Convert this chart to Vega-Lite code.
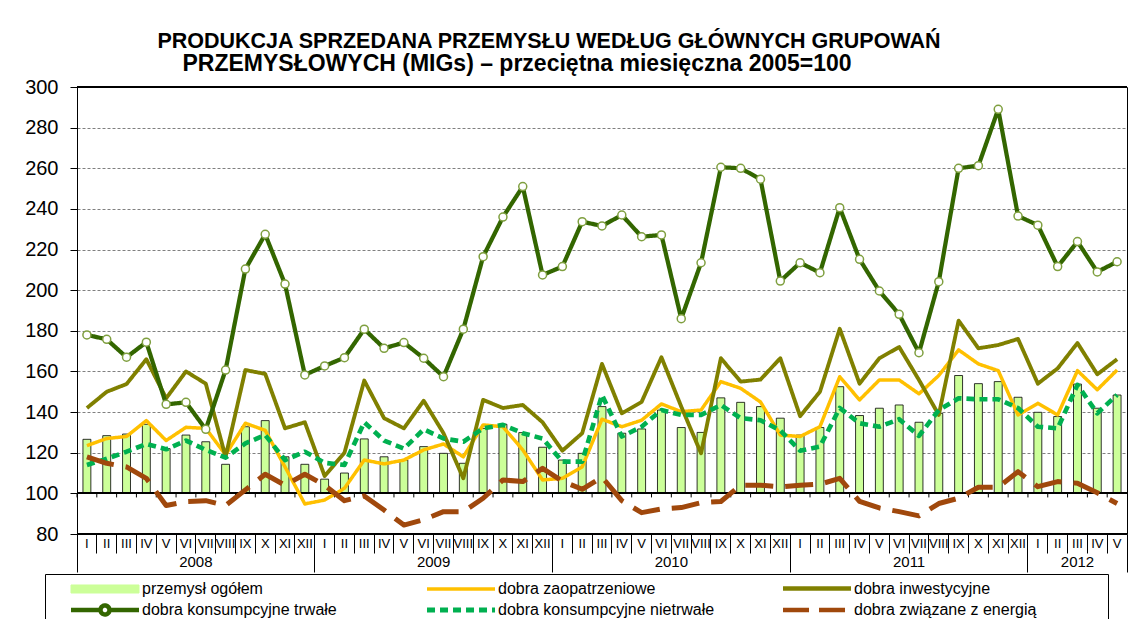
{
  "$schema": "https://vega.github.io/schema/vega-lite/v6.json",
  "width": 1050,
  "height": 447,
  "autosize": {"type": "none"},
  "padding": {"left": 77, "top": 87, "right": 4, "bottom": 85},
  "background": "white",
  "config": {"font": "Liberation Sans", "view": {"stroke": "black", "strokeWidth": 1}},
  "title": {
    "text": "PRODUKCJA SPRZEDANA PRZEMYSŁU WEDŁUG GŁÓWNYCH GRUPOWAŃ",
    "subtitle": "PRZEMYSŁOWYCH (MIGs) – przeciętna miesięczna 2005=100\u00a0\u00a0\u00a0\u00a0\u00a0\u00a0\u00a0\u00a0\u00a0\u00a0\u200b",
    "fontSize": 21.5,
    "font": "Liberation Sans",
    "fontWeight": "bold",
    "color": "black",
    "subtitleFont": "Liberation Sans",
    "subtitleFontSize": 23,
    "subtitleFontWeight": "bold",
    "subtitleColor": "black",
    "subtitlePadding": 1,
    "anchor": "middle",
    "dx": -53,
    "offset": 1
  },
  "data": {"values": [
    {"m": "2008-01", "ogolem": 126.6, "zaop": 123.5, "inwest": 142, "trwale": 178, "nietrwale": 114, "energia": 118},
    {"m": "2008-02", "ogolem": 128.4, "zaop": 127, "inwest": 150, "trwale": 175.8, "nietrwale": 117, "energia": 114.8},
    {"m": "2008-03", "ogolem": 129.2, "zaop": 128, "inwest": 153.8, "trwale": 167, "nietrwale": 120.5, "energia": 113},
    {"m": "2008-04", "ogolem": 134, "zaop": 135.8, "inwest": 166, "trwale": 174.4, "nietrwale": 124.3, "energia": 107.4},
    {"m": "2008-05", "ogolem": 122, "zaop": 126, "inwest": 146.8, "trwale": 143.8, "nietrwale": 121.7, "energia": 94},
    {"m": "2008-06", "ogolem": 128.7, "zaop": 132.5, "inwest": 160, "trwale": 144.8, "nietrwale": 126, "energia": 96},
    {"m": "2008-07", "ogolem": 125.4, "zaop": 132, "inwest": 154, "trwale": 131.5, "nietrwale": 121.4, "energia": 96.4},
    {"m": "2008-08", "ogolem": 114.3, "zaop": 119, "inwest": 118, "trwale": 160.7, "nietrwale": 117.6, "energia": 94},
    {"m": "2008-09", "ogolem": 132.8, "zaop": 134.5, "inwest": 160.7, "trwale": 210.4, "nietrwale": 124.6, "energia": 101.7},
    {"m": "2008-10", "ogolem": 135.8, "zaop": 131, "inwest": 158.8, "trwale": 227.5, "nietrwale": 128.7, "energia": 109.4},
    {"m": "2008-11", "ogolem": 118, "zaop": 113, "inwest": 132, "trwale": 203, "nietrwale": 116.4, "energia": 104},
    {"m": "2008-12", "ogolem": 114.3, "zaop": 94.8, "inwest": 135, "trwale": 158.3, "nietrwale": 120.5, "energia": 109.4},
    {"m": "2009-01", "ogolem": 107, "zaop": 96.7, "inwest": 108.5, "trwale": 162.7, "nietrwale": 115, "energia": 104},
    {"m": "2009-02", "ogolem": 110, "zaop": 102.5, "inwest": 120, "trwale": 166.8, "nietrwale": 114, "energia": 96.4},
    {"m": "2009-03", "ogolem": 126.8, "zaop": 116.4, "inwest": 155.5, "trwale": 180.8, "nietrwale": 135, "energia": 98.7},
    {"m": "2009-04", "ogolem": 118, "zaop": 114.5, "inwest": 137, "trwale": 171.4, "nietrwale": 126, "energia": 91.8},
    {"m": "2009-05", "ogolem": 116.4, "zaop": 116.4, "inwest": 132, "trwale": 174.2, "nietrwale": 122, "energia": 84.4},
    {"m": "2009-06", "ogolem": 123, "zaop": 121.4, "inwest": 145.6, "trwale": 166.5, "nietrwale": 131.5, "energia": 87},
    {"m": "2009-07", "ogolem": 119.7, "zaop": 124.3, "inwest": 129.6, "trwale": 157.4, "nietrwale": 127, "energia": 91},
    {"m": "2009-08", "ogolem": 114.8, "zaop": 118, "inwest": 107.4, "trwale": 180.8, "nietrwale": 125.4, "energia": 91},
    {"m": "2009-09", "ogolem": 132, "zaop": 133.7, "inwest": 146, "trwale": 216.5, "nietrwale": 132, "energia": 97.6},
    {"m": "2009-10", "ogolem": 134, "zaop": 132.8, "inwest": 142, "trwale": 236, "nietrwale": 133.7, "energia": 106.6},
    {"m": "2009-11", "ogolem": 129.9, "zaop": 121.4, "inwest": 143.5, "trwale": 251, "nietrwale": 129.6, "energia": 105.8},
    {"m": "2009-12", "ogolem": 122.7, "zaop": 106.6, "inwest": 135, "trwale": 207.5, "nietrwale": 127, "energia": 112.3},
    {"m": "2010-01", "ogolem": 116.4, "zaop": 107.4, "inwest": 121, "trwale": 211.6, "nietrwale": 115.6, "energia": 106},
    {"m": "2010-02", "ogolem": 119.7, "zaop": 113, "inwest": 129.6, "trwale": 233.7, "nietrwale": 115.6, "energia": 102},
    {"m": "2010-03", "ogolem": 142.7, "zaop": 136.5, "inwest": 163.7, "trwale": 231.6, "nietrwale": 148.4, "energia": 108},
    {"m": "2010-04", "ogolem": 129.6, "zaop": 132.8, "inwest": 139.4, "trwale": 237, "nietrwale": 128, "energia": 96.4},
    {"m": "2010-05", "ogolem": 131.7, "zaop": 136, "inwest": 145, "trwale": 226.3, "nietrwale": 132.8, "energia": 90.5},
    {"m": "2010-06", "ogolem": 141, "zaop": 144, "inwest": 167, "trwale": 227.2, "nietrwale": 141, "energia": 92.3},
    {"m": "2010-07", "ogolem": 132.4, "zaop": 140.2, "inwest": 142.7, "trwale": 186, "nietrwale": 138.6, "energia": 93},
    {"m": "2010-08", "ogolem": 130, "zaop": 141, "inwest": 119.7, "trwale": 213.5, "nietrwale": 138.6, "energia": 95.4},
    {"m": "2010-09", "ogolem": 147, "zaop": 155, "inwest": 166.5, "trwale": 260.5, "nietrwale": 143.5, "energia": 96},
    {"m": "2010-10", "ogolem": 144.8, "zaop": 151.7, "inwest": 155, "trwale": 260, "nietrwale": 137, "energia": 104},
    {"m": "2010-11", "ogolem": 142.7, "zaop": 145, "inwest": 156, "trwale": 254.6, "nietrwale": 136, "energia": 104},
    {"m": "2010-12", "ogolem": 137, "zaop": 128.7, "inwest": 166.5, "trwale": 204.5, "nietrwale": 131, "energia": 103.2},
    {"m": "2011-01", "ogolem": 128.7, "zaop": 128, "inwest": 138, "trwale": 213.5, "nietrwale": 121, "energia": 104},
    {"m": "2011-02", "ogolem": 132.4, "zaop": 132.8, "inwest": 150, "trwale": 208.6, "nietrwale": 123, "energia": 104.5},
    {"m": "2011-03", "ogolem": 152.5, "zaop": 157.4, "inwest": 181, "trwale": 240.6, "nietrwale": 142, "energia": 107.4},
    {"m": "2011-04", "ogolem": 138.3, "zaop": 146, "inwest": 154, "trwale": 215.2, "nietrwale": 134.5, "energia": 96},
    {"m": "2011-05", "ogolem": 141.9, "zaop": 155.8, "inwest": 166.5, "trwale": 199.6, "nietrwale": 132.8, "energia": 92.8},
    {"m": "2011-06", "ogolem": 143.5, "zaop": 155.8, "inwest": 172, "trwale": 188.1, "nietrwale": 136.5, "energia": 91},
    {"m": "2011-07", "ogolem": 135, "zaop": 149, "inwest": 155.8, "trwale": 169.2, "nietrwale": 128.3, "energia": 88.9},
    {"m": "2011-08", "ogolem": 139.4, "zaop": 158, "inwest": 138.6, "trwale": 204.2, "nietrwale": 141, "energia": 95},
    {"m": "2011-09", "ogolem": 158, "zaop": 170.6, "inwest": 185, "trwale": 260, "nietrwale": 146.8, "energia": 97.6},
    {"m": "2011-10", "ogolem": 154, "zaop": 163.7, "inwest": 171.4, "trwale": 261.3, "nietrwale": 146.3, "energia": 103},
    {"m": "2011-11", "ogolem": 155, "zaop": 160.4, "inwest": 173, "trwale": 289, "nietrwale": 146.3, "energia": 103},
    {"m": "2011-12", "ogolem": 147.3, "zaop": 138.6, "inwest": 176, "trwale": 236.5, "nietrwale": 142, "energia": 110.7},
    {"m": "2012-01", "ogolem": 139.9, "zaop": 144.3, "inwest": 154, "trwale": 232, "nietrwale": 132.8, "energia": 103.3},
    {"m": "2012-02", "ogolem": 137.8, "zaop": 138.6, "inwest": 161.5, "trwale": 211.6, "nietrwale": 132, "energia": 105.8},
    {"m": "2012-03", "ogolem": 153.8, "zaop": 160.4, "inwest": 174, "trwale": 223.9, "nietrwale": 153.4, "energia": 105},
    {"m": "2012-04", "ogolem": 141.9, "zaop": 151, "inwest": 158.6, "trwale": 209, "nietrwale": 139.4, "energia": 100.3},
    {"m": "2012-05", "ogolem": 148.4, "zaop": 160.7, "inwest": 166, "trwale": 214, "nietrwale": 148.5, "energia": 95}
  ]},
  "layer": [
    {
      "mark": {"type": "bar", "fill": "#ccff99", "stroke": "black", "strokeWidth": 0.8, "width": {"band": 0.4}},
      "encoding": {
        "x": {
          "field": "m", "type": "ordinal",
          "scale": {"paddingInner": 0, "paddingOuter": 0},
          "axis": {
            "orient": "bottom",
            "title": null, "ticks": false, "domain": false, "grid": false,
            "labelAngle": 0, "labelFontSize": 13, "labelColor": "black", "labelPadding": 3,
            "labelOverlap": false, "labelBound": false, "labelFlush": false,
            "labelExpr": "['I','II','III','IV','V','VI','VII','VIII','IX','X','XI','XII'][toNumber(substring(datum.value,5))-1]"
          }
        },
        "y": {
          "field": "ogolem", "type": "quantitative",
          "scale": {"domain": [80, 300], "nice": false, "zero": false},
          "axis": null
        },
        "y2": {"datum": 100}
      }
    },
    {
      "mark": {"type": "rule", "color": "black", "strokeWidth": 1},
      "encoding": {"y": {"datum": 100, "axis": null}}
    },
    {
      "mark": {"type": "rule", "color": "black", "strokeWidth": 1},
      "encoding": {
        "x": {"field": "m", "type": "ordinal", "bandPosition": 0, "axis": null},
        "y": {"datum": 100, "axis": null},
        "y2": {"datum": 98}
      }
    },
    {
      "transform": [{"fold": ["zaop", "inwest", "trwale", "nietrwale", "energia"], "as": ["s", "v"]}],
      "mark": {"type": "line", "strokeCap": "butt", "strokeJoin": "round"},
      "encoding": {
        "x": {
          "field": "m", "type": "ordinal",
          "axis": {
            "orient": "bottom",
            "title": null, "bandPosition": 0, "labels": false, "domain": false, "grid": false,
            "ticks": true, "tickColor": "black", "tickWidth": 1,
            "tickSize": {"condition": {"test": "substring(datum.value,5) == '01'", "value": 38}, "value": 19}
          }
        },
        "y": {
          "field": "v", "type": "quantitative",
          "axis": {
            "orient": "left",
            "title": null, "values": [80, 100, 120, 140, 160, 180, 200, 220, 240, 260, 280, 300],
            "labelFontSize": 20, "labelColor": "black", "labelPadding": 12,
            "ticks": true, "tickSize": 7, "tickColor": "black",
            "domain": true, "domainColor": "black",
            "grid": true, "gridColor": "#808080", "gridDash": [3, 2]
          }
        },
        "color": {
          "field": "s", "type": "nominal",
          "scale": {
            "domain": ["ogolem", "trwale", "zaop", "nietrwale", "inwest", "energia"],
            "range": ["#ccff99", "#336600", "#ffc000", "#00b050", "#808000", "#a0480c"]
          },
          "legend": {
            "title": "\u00a0", "titleOrient": "left", "titleFontSize": 4, "titlePadding": 74,
            "orient": "none", "legendX": -32, "legendY": 487,
            "columns": 3, "gridAlign": "all", "columnPadding": 25, "rowPadding": -4,
            "padding": 4, "strokeColor": "black", "fillColor": "white",
            "symbolSize": 8100, "labelOffset": 3,
            "labelFontSize": 16, "labelColor": "black", "labelLimit": 400,
            "labelExpr": "{'ogolem':'przemysł ogółem','zaop':'dobra zaopatrzeniowe','inwest':'dobra inwestycyjne','trwale':'dobra konsumpcyjne trwałe','nietrwale':'dobra konsumpcyjne nietrwałe','energia':'dobra związane z energią\u00a0\u00a0\u00a0\u00a0\u00a0\u00a0\u00a0\u00a0\u00a0\u00a0\u00a0\u00a0\u00a0\u00a0\u00a0\u200b'}[datum.value]",
            "encode": {
              "symbols": {
                "update": {
                  "shape": {"signal": "datum.value=='ogolem' ? 'M-1.333,-0.089H0.178V0.089H-1.333Z' : datum.value=='trwale' ? 'M-1.333,0H-0.678M-0.478,0H0.178M-0.678,0A0.1,0.1,0,1,0,-0.478,0A0.1,0.1,0,1,0,-0.678,0' : 'M-1.333,0H0.178'"},
                  "fill": {"signal": "datum.value=='ogolem' ? '#ccff99' : datum.value=='trwale' ? 'white' : 'transparent'"},
                  "fillOpacity": {"value": 1},
                  "opacity": {"value": 1},
                  "stroke": {"signal": "datum.value=='ogolem' ? 'black' : datum.value=='zaop' ? '#ffc000' : datum.value=='inwest' ? '#808000' : datum.value=='trwale' ? '#336600' : datum.value=='nietrwale' ? '#00b050' : '#a0480c'"},
                  "strokeWidth": {"signal": "datum.value=='ogolem' ? 1 : datum.value=='zaop' ? 3.5 : datum.value=='nietrwale' ? 5 : 4.5"},
                  "strokeDash": {"signal": "datum.value=='nietrwale' ? [8,5] : datum.value=='energia' ? [26,10] : [1,0]"},
                  "size": {"value": 8100}
                }
              }
            }
          }
        },
        "strokeDash": {
          "field": "s", "type": "nominal",
          "scale": {"domain": ["zaop", "inwest", "trwale", "nietrwale", "energia"], "range": [[1, 0], [1, 0], [1, 0], [8, 5], [28, 12]]},
          "legend": null
        },
        "strokeWidth": {
          "field": "s", "type": "nominal",
          "scale": {"domain": ["zaop", "inwest", "trwale", "nietrwale", "energia"], "range": [3.5, 5, 6, 5, 4.5]},
          "legend": null
        }
      }
    },
    {
      "mark": {"type": "point", "shape": "circle", "filled": true, "fill": "white", "stroke": "#7f9f3f", "strokeWidth": 1.5, "size": 64, "opacity": 1},
      "encoding": {
        "x": {
          "field": "m", "type": "ordinal",
          "axis": {
            "orient": "bottom",
            "title": null, "bandPosition": 1, "domain": false, "grid": false,
            "values": ["2008-06", "2009-06", "2010-06", "2011-06", "2012-03", "2012-05"],
            "labelExpr": "datum.value == '2012-05' ? '' : substring(datum.value,0,4)",
            "labelOffset": {"condition": {"test": "datum.value == '2012-03'", "value": 0}, "value": 9.9},
            "labelAngle": 0, "labelFontSize": 15, "labelColor": "black", "labelPadding": 20,
            "labelOverlap": false, "labelBound": false, "labelFlush": false,
            "ticks": true, "tickColor": "black",
            "tickSize": {"condition": {"test": "datum.value == '2012-05'", "value": 38}, "value": 0}
          }
        },
        "y": {"field": "trwale", "type": "quantitative", "axis": null}
      }
    },
    {
      "mark": {"type": "rule", "color": "black", "strokeWidth": 1},
      "encoding": {"y": {"datum": 300, "axis": null}}
    },
    {
      "mark": {"type": "rule", "color": "black", "strokeWidth": 1},
      "encoding": {"y": {"datum": 80, "axis": null}}
    }
  ],
  "resolve": {"axis": {"x": "independent", "y": "independent"}}
}
